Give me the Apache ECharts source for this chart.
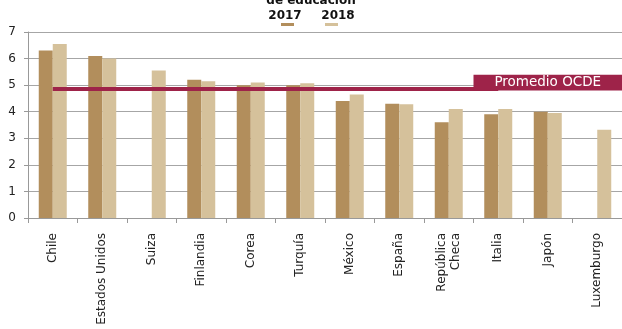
<!DOCTYPE html>
<html><head><meta charset="utf-8">
<script src="https://cdn.jsdelivr.net/npm/echarts@6/dist/echarts.min.js"></script>
<style>html,body{margin:0;padding:0;background:#fff}#c{width:622px;height:329px}</style>
</head><body><div id="c"></div>
<script>
const categories = ['Chile','Estados Unidos','Suiza','Finlandia','Corea','Turquía','México','España','República\nCheca','Italia','Japón','Luxemburgo'];
const values2017 = [6.3, 6.1, null, 5.2, 5.0, 5.0, 4.4, 4.3, 3.6, 3.9, 4.0, null];
const values2018 = [6.55, 6.0, 5.55, 5.15, 5.1, 5.07, 4.65, 4.28, 4.1, 4.1, 3.95, 3.32];
const ocdeAvg = 4.87;
const seriesNames = ['2017','2018'];
const FONT = 'DejaVu Sans';
const C17 = '#B28E5C', C18 = '#D5C19B', CO = '#9E2349';

const chart = echarts.init(document.getElementById('c'));
chart.setOption({
  animation: false,
  textStyle: {fontFamily: FONT},
  grid: {left: 28, right: 0, top: 32, bottom: 111},
  xAxis: {
    type: 'category', data: categories,
    axisLine: {lineStyle: {color: '#999', width: 1}},
    axisTick: {show: true, length: 5, lineStyle: {color: '#999'}},
    axisLabel: {rotate: 90, fontSize: 12, color: '#222', margin: 15, lineHeight: 14, interval: 0, fontFamily: FONT}
  },
  yAxis: {
    type: 'value', min: 0, max: 7, interval: 1,
    axisLine: {show: true, lineStyle: {color: '#999'}},
    axisTick: {show: true, length: 4, lineStyle: {color: '#999'}},
    splitLine: {lineStyle: {color: '#a6a6a6', width: 1}},
    axisLabel: {fontSize: 12, color: '#222', margin: 12, fontFamily: FONT}
  },
  series: [
    {name: seriesNames[0], type: 'bar', data: values2017, barWidth: 14, barGap: '0%', itemStyle: {color: C17}},
    {name: seriesNames[1], type: 'bar', data: values2018, barWidth: 14, barGap: '0%', itemStyle: {color: C18}},
    {name: 'Promedio OCDE', type: 'line', data: [], symbol: 'none',
     markLine: {symbol: 'none', silent: true, label: {show: false},
       lineStyle: {color: CO, width: 4, type: 'solid'},
       data: [[{coord: [0, ocdeAvg]}, {coord: [9, ocdeAvg]}]]}}
  ]
});

// annotation box and legend/title, positioned from the chart's own scales
const half = (chart.convertToPixel({xAxisIndex: 0}, categories[10]) - chart.convertToPixel({xAxisIndex: 0}, categories[9])) / 2;
const boxX = chart.convertToPixel({xAxisIndex: 0}, categories[9]) - half;
const boxTop = chart.convertToPixel({yAxisIndex: 0}, 5.39);
const boxBot = chart.convertToPixel({yAxisIndex: 0}, 4.80);
chart.setOption({
  graphic: [
    {type: 'rect', z: 100, shape: {x: boxX, y: boxTop, width: 622 - boxX, height: boxBot - boxTop}, style: {fill: CO}},
    {type: 'text', z: 101, x: boxX + (622 - boxX) / 2, y: (boxTop + boxBot) / 2,
     style: {text: 'Promedio OCDE', fill: '#fff', font: '13.5px "DejaVu Sans"', align: 'center', verticalAlign: 'middle'}},
    {type: 'text', x: 311, y: 1, style: {text: 'de educación', fill: '#111', font: 'bold 12px "DejaVu Sans"', align: 'center', verticalAlign: 'middle'}},
    {type: 'text', x: 285, y: 16, style: {text: seriesNames[0], fill: '#111', font: 'bold 12px "DejaVu Sans"', align: 'center', verticalAlign: 'middle'}},
    {type: 'rect', shape: {x: 281, y: 23, width: 13, height: 3}, style: {fill: C17}},
    {type: 'text', x: 338, y: 16, style: {text: seriesNames[1], fill: '#111', font: 'bold 12px "DejaVu Sans"', align: 'center', verticalAlign: 'middle'}},
    {type: 'rect', shape: {x: 325, y: 23, width: 13, height: 3}, style: {fill: C18}}
  ]
});
</script></body></html>
